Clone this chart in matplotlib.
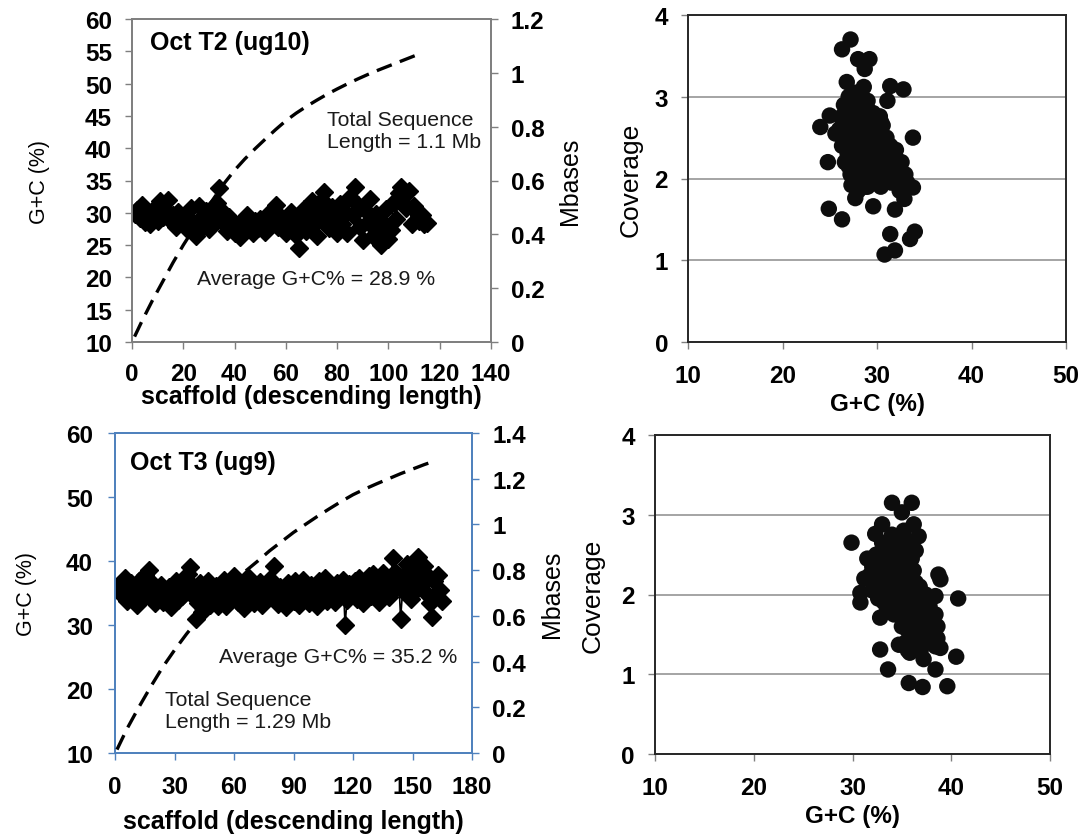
import numpy as np
import matplotlib.pyplot as plt
from matplotlib.ticker import FuncFormatter, MultipleLocator

plt.rcParams['font.family'] = ['Liberation Sans', 'DejaVu Sans']

# ---- Oct T2 (ug10): G+C por scaffold (orden de longitud descendente)
gc_t2 = [29.8, 30.5, 29.2, 31.2, 28.6, 29.9, 28.3, 30.4, 29.1, 28.7,
         31.8, 29.4, 30.6, 32.0, 28.9, 29.7, 27.8, 30.1, 28.5, 29.3,
         27.6, 29.0, 30.8, 28.2, 26.4, 31.0, 29.2, 28.0, 30.3, 27.5,
         29.8, 28.4, 31.5, 33.8, 28.6, 30.0, 27.2, 29.4, 28.1, 26.8,
         27.9, 26.2, 28.8, 27.4, 29.6, 28.3, 26.9, 28.7, 27.6, 29.1,
         28.4, 27.0, 29.8, 28.2, 30.4, 31.2, 27.8, 29.3, 28.6, 26.8,
         27.5, 30.2, 28.0, 26.5, 24.6, 28.9, 30.6, 27.2, 29.4, 31.8,
         28.2, 26.4, 30.5, 32.0, 33.2, 28.8, 27.6, 30.9, 29.5, 26.8,
         31.4, 28.3, 30.2, 26.9, 32.4, 29.6, 34.0, 31.2, 27.8, 25.8,
         30.4, 28.6, 32.2, 26.4, 29.8, 27.2, 25.0, 28.4, 30.6, 26.0,
         27.4, 31.6, 29.0, 33.0, 34.0, 32.6, 30.8, 33.4, 28.2, 31.0,
         30.2, 28.8, 29.6, 28.2, 28.4]
# longitud acumulada (Mb)
cum_x_t2 = [1, 4, 8, 12, 16, 20, 24, 28, 32, 36, 40, 44, 48, 52, 56, 60, 64, 68,
            72, 76, 80, 84, 88, 92, 96, 100, 104, 108, 112]
cum_mb_t2 = [0.02, 0.08, 0.155, 0.225, 0.295, 0.36, 0.42, 0.48, 0.535, 0.59, 0.638,
             0.68, 0.718, 0.754, 0.789, 0.822, 0.85, 0.875, 0.898, 0.92, 0.94, 0.959,
             0.977, 0.994, 1.01, 1.025, 1.04, 1.055, 1.07]

# ---- Oct T3 (ug9)
gc_t3 = [35.6, 36.2, 34.8, 35.9, 37.4, 33.8, 35.2, 36.6, 34.4, 35.8,
         33.2, 36.9, 35.0, 34.2, 37.8, 35.4, 38.6, 34.6, 36.4, 33.4,
         35.7, 34.0, 36.3, 33.6, 35.1, 34.8, 36.0, 32.8, 35.5, 34.3,
         36.8, 33.9, 35.2, 34.6, 37.2, 35.8, 38.0, 39.0, 36.2, 34.4,
         31.0, 33.5, 36.6, 32.0, 35.4, 34.1, 36.9, 33.2, 35.0, 34.5,
         36.1, 33.0, 35.6, 34.2, 37.0, 32.9, 35.3, 36.5, 34.0, 37.6,
         35.2, 33.6, 36.4, 34.8, 32.6, 35.9, 37.5, 34.3, 36.2, 33.4,
         35.8, 34.6, 36.7, 33.1, 35.5, 34.0, 36.3, 37.2, 34.7, 39.2,
         35.0, 33.3, 36.0, 34.5, 35.7, 32.8, 36.6, 34.2, 35.3, 33.7,
         36.8, 34.9, 33.2, 35.6, 37.0, 34.1, 35.9, 33.5, 36.3, 34.8,
         35.4, 33.0, 36.9, 34.6, 35.2, 37.4, 33.8, 36.1, 34.4, 35.8,
         33.6, 36.5, 34.3, 35.0, 37.1, 30.0, 33.9, 36.4, 34.7, 35.5,
         36.8, 34.0, 37.3, 35.2, 33.4, 36.9, 35.8, 37.6, 34.5, 38.0,
         35.9, 37.4, 33.6, 36.8, 38.2, 35.1, 37.0, 34.3, 36.5, 40.4,
         38.3, 36.0, 37.6, 31.0, 35.3, 37.9, 39.6, 36.2, 34.0, 37.4,
         38.8, 35.4, 40.6, 37.8, 36.4, 39.2, 35.0, 37.6, 33.4, 31.2,
         36.8, 34.6, 37.8, 35.4, 33.8]
cum_x_t3 = [1, 6, 12, 18, 24, 30, 36, 42, 48, 54, 60, 66, 72, 78, 84, 90, 96, 102,
            108, 114, 120, 126, 132, 138, 144, 150, 156, 162]
cum_mb_t3 = [0.015, 0.105, 0.2, 0.29, 0.375, 0.45, 0.52, 0.585, 0.645, 0.7, 0.75,
             0.797, 0.84, 0.885, 0.925, 0.965, 1.0, 1.035, 1.068, 1.1, 1.13, 1.155,
             1.178, 1.2, 1.222, 1.242, 1.262, 1.28]

# ---- cobertura vs G+C
sc_gc_t2 = [24.0, 24.8, 24.9, 26.3, 26.3, 27.2, 28.0, 29.2, 28.7, 31.4, 32.8, 31.1,
            30.3, 33.8, 33.8, 32.9, 31.9, 29.6, 27.7, 31.4, 30.8, 31.9, 33.5, 34.0,
            26.8, 28.6, 25.0,
            26.5, 27.0, 27.4, 27.8, 28.3, 29.0, 29.6, 26.0, 26.6, 27.2, 27.6, 28.1,
            28.5, 29.0, 29.5, 30.0, 30.4, 31.0, 31.4, 25.6, 26.3, 26.9, 27.5, 28.0,
            28.6, 29.2, 29.8, 30.3, 30.9, 31.6, 32.0, 27.2, 27.8, 28.4, 29.0, 29.6,
            30.2, 30.8, 31.3, 32.2, 32.7, 33.2, 27.3, 28.0, 28.8, 30.4, 31.5, 29.3,
            30.6, 28.0, 27.0, 30.8, 31.8, 32.4,
            26.2, 26.8, 27.4, 28.0, 28.6, 29.2, 29.8, 30.4, 27.0, 27.6, 28.2, 28.8,
            29.4, 30.0, 30.6, 31.2, 27.0, 27.6, 28.2, 28.8, 29.4, 30.0, 30.6, 31.2,
            28.4, 29.0, 26.4, 27.6, 28.4, 29.0, 26.6, 32.6, 33.0]
sc_cov_t2 = [2.63, 2.2, 1.63, 1.5, 3.58, 3.7, 3.46, 3.46, 3.34, 3.13, 3.09, 2.95,
             2.76, 2.5, 1.89, 1.75, 1.62, 1.66, 1.76, 1.32, 1.07, 1.12, 1.26, 1.35,
             3.18, 3.12, 2.77,
             2.9, 3.0, 2.85, 2.95, 2.9, 2.85, 2.8, 2.6, 2.5, 2.6, 2.45, 2.7,
             2.55, 2.6, 2.5, 2.45, 2.55, 2.5, 2.4, 2.55, 2.4, 2.3, 2.2, 2.35,
             2.25, 2.3, 2.2, 2.3, 2.25, 2.3, 2.35, 2.05, 2.1, 2.0, 2.05, 1.95,
             2.05, 2.0, 2.1, 2.1, 2.0, 1.95, 1.92, 1.85, 1.9, 1.9, 1.95, 2.75,
             2.65, 2.6, 2.75, 2.15, 2.05, 1.85,
             2.75, 2.65, 2.7, 2.8, 2.75, 2.65, 2.6, 2.7, 2.4, 2.35, 2.45, 2.4,
             2.35, 2.35, 2.4, 2.2, 2.15, 2.25, 2.15, 2.1, 2.15, 2.1, 1.95, 2.25,
             1.95, 1.9, 2.55, 3.05, 3.0, 2.95, 2.2, 2.2, 2.05]

sc_gc_t3 = [29.9, 34.0, 36.0, 35.0, 33.0, 32.3, 36.2, 36.7, 38.7, 38.9, 40.7, 30.8,
            30.8, 32.8, 32.8, 33.6, 35.7, 37.1, 39.6, 38.4, 40.5, 38.9, 37.2, 35.8,
            34.7, 38.4,
            31.5, 32.0, 32.5, 33.0, 33.5, 34.0, 34.5, 35.0, 35.5, 36.0, 31.2, 31.8,
            32.4, 33.0, 33.6, 34.2, 34.8, 35.4, 36.2, 32.0, 32.6, 33.2, 33.8, 34.4,
            35.0, 35.6, 36.2, 36.8, 37.4, 33.5, 34.2, 34.8, 35.4, 36.0, 36.6, 37.2,
            37.8, 38.4, 35.0, 35.6, 36.2, 36.8, 37.4, 38.0, 38.6, 35.4, 36.0, 36.6,
            37.2, 37.8, 38.4, 34.6, 35.2, 35.8, 36.4, 33.0, 34.0,
            32.8, 33.4, 34.0, 34.6, 35.2, 35.8, 32.4, 33.8, 34.6, 35.2, 35.8, 36.4,
            33.2, 34.0, 34.6, 35.2, 35.8, 36.4, 37.0, 37.6, 36.4, 35.8, 35.2, 37.0,
            38.0, 36.3, 37.0, 37.6, 38.2, 35.6, 36.9, 38.6, 34.3, 35.0, 36.0, 33.6]
sc_cov_t3 = [2.65, 3.15, 3.15, 3.03, 2.88, 2.76, 2.88, 2.73, 2.25, 2.19, 1.95, 2.02,
             1.9, 1.71, 1.31, 1.06, 0.89, 0.84, 0.85, 1.06, 1.22, 1.33, 1.19, 1.27,
             1.37, 1.98,
             2.45, 2.35, 2.5, 2.4, 2.55, 2.45, 2.6, 2.5, 2.55, 2.45, 2.2, 2.25,
             2.15, 2.2, 2.3, 2.2, 2.35, 2.25, 2.3, 2.05, 1.95, 2.05, 1.95, 2.05,
             2.0, 2.1, 2.0, 2.1, 2.0, 1.8, 1.75, 1.85, 1.75, 1.85, 1.75, 1.8,
             1.85, 1.75, 1.6, 1.55, 1.65, 1.55, 1.6, 1.55, 1.6, 1.4, 1.45, 1.35,
             1.45, 1.4, 1.35, 2.7, 2.8, 2.65, 2.55, 2.65, 2.75,
             2.3, 2.4, 2.3, 2.4, 2.35, 2.4, 2.5, 2.1, 2.15, 2.1, 2.2, 2.15,
             1.9, 1.85, 1.95, 1.9, 1.95, 1.9, 1.95, 1.7, 1.7, 1.65, 1.7, 1.65,
             1.7, 1.5, 1.5, 1.5, 1.5, 1.3, 1.3, 1.45, 2.6, 2.65, 2.65, 2.6]

W, H = 1088, 837
fig = plt.figure(figsize=(W / 100, H / 100), dpi=100)


def rect(left, top, right, bottom):
    return [left / W, 1 - bottom / H, (right - left) / W, (bottom - top) / H]


fmt = FuncFormatter(lambda v, p: '{:g}'.format(round(v, 2)))
txt_col = '#1a1a1a'
TICK = 17.5


def bold_ticks(a):
    for lab in a.get_xticklabels() + a.get_yticklabels():
        lab.set_fontweight('bold')


def panel_gc(r, gc, cx, cmb, xmax, xstep, ystep, ymax2, frame, xpad, ypad, lab_pos,
             titulo, tit_pos, avg_txt, avg_pos, tot_txt, tot_pos):
    ax = fig.add_axes(r)
    x = np.arange(1, len(gc) + 1)
    ax.plot(x, gc, color='black', lw=1.2, marker='D', ms=9, mfc='black', mec='black', zorder=3)
    ax.set_xlim(0, xmax)
    ax.set_ylim(10, 60)
    ax.xaxis.set_major_locator(MultipleLocator(xstep))
    ax.yaxis.set_major_locator(MultipleLocator(ystep))
    ax.set_xlabel('scaffold (descending length)', fontsize=18, fontweight='bold', va='center')
    ax.xaxis.set_label_coords(0.5, lab_pos[2])
    ax.set_ylabel('G+C (%)', fontsize=15.5, va='center')
    ax.yaxis.set_label_coords(lab_pos[0], 0.5)
    ax2 = ax.twinx()
    ax2.plot(cx, cmb, color='black', lw=2.4, ls=(0, (4.8, 2.6)), zorder=4)
    ax2.set_ylim(0, ymax2)
    ax2.yaxis.set_major_locator(MultipleLocator(0.2))
    ax2.yaxis.set_major_formatter(fmt)
    ax2.set_ylabel('Mbases', fontsize=18, va='center')
    ax2.yaxis.set_label_coords(lab_pos[1], 0.5)
    for a in (ax, ax2):
        for s in a.spines.values():
            s.set_color(frame)
            s.set_linewidth(1.3)
        a.tick_params(length=5, width=1, color=frame, labelsize=TICK)
        a.tick_params(axis='x', pad=xpad)
        bold_ticks(a)
    ax.tick_params(axis='y', pad=ypad)
    ax2.tick_params(axis='y', pad=9.4)
    ax.text(tit_pos[0], tit_pos[1], titulo, transform=ax.transAxes, fontsize=18,
            fontweight='bold', va='center')
    ax.text(avg_pos[0], avg_pos[1], avg_txt, transform=ax.transAxes, fontsize=15.3,
            color=txt_col, va='center')
    ax.text(tot_pos[0], tot_pos[1], tot_txt, transform=ax.transAxes, fontsize=15.3,
            color=txt_col, va='center', linespacing=1.25)
    return ax


def panel_cov(r, gx, cv, ylab_x, xlab_y):
    ax = fig.add_axes(r)
    ax.scatter(gx, cv, s=140, color='#0d0d0d', edgecolors='none', zorder=3)
    ax.set_xlim(10, 50)
    ax.set_ylim(0, 4)
    ax.xaxis.set_major_locator(MultipleLocator(10))
    ax.yaxis.set_major_locator(MultipleLocator(1))
    ax.yaxis.grid(True, color='#8c8c8c', lw=1.1)
    ax.set_axisbelow(True)
    for s in ax.spines.values():
        s.set_color('#262626')
        s.set_linewidth(1.4)
    ax.tick_params(length=5, width=1, color='#808080', labelsize=TICK)
    ax.tick_params(axis='x', pad=10.8)
    ax.tick_params(axis='y', pad=9.4)
    bold_ticks(ax)
    ax.set_xlabel('G+C (%)', fontsize=17.5, fontweight='bold', va='center')
    ax.xaxis.set_label_coords(0.5, xlab_y)
    ax.set_ylabel('Coverage', fontsize=19, va='center')
    ax.yaxis.set_label_coords(ylab_x, 0.5)
    return ax


panel_gc(rect(132, 20, 491, 343), gc_t2, cum_x_t2, cum_mb_t2, 140, 20, 5, 1.2, '#7f7f7f',
         9.4, 9.4, (-0.259, 1.220, -0.167),
         'Oct T2 (ug10)', (0.05, 0.929),
         'Average G+C% = 28.9 %', (0.181, 0.198),
         'Total Sequence\nLength = 1.1 Mb', (0.543, 0.655))
panel_gc(rect(115, 434, 472, 754), gc_t3, cum_x_t3, cum_mb_t3, 180, 30, 10, 1.4, '#4f81bd',
         10.8, 10.8, (-0.249, 1.224, -0.2125),
         'Oct T3 (ug9)', (0.042, 0.909),
         'Average G+C% = 35.2 %', (0.291, 0.30),
         'Total Sequence\nLength = 1.29 Mb', (0.14, 0.133))

panel_cov(rect(688, 16, 1066, 343), sc_gc_t2, sc_cov_t2, -0.151, -0.187)
panel_cov(rect(655, 436, 1050, 755), sc_gc_t3, sc_cov_t3, -0.159, -0.194)

fig.savefig('out.png', dpi=100)
